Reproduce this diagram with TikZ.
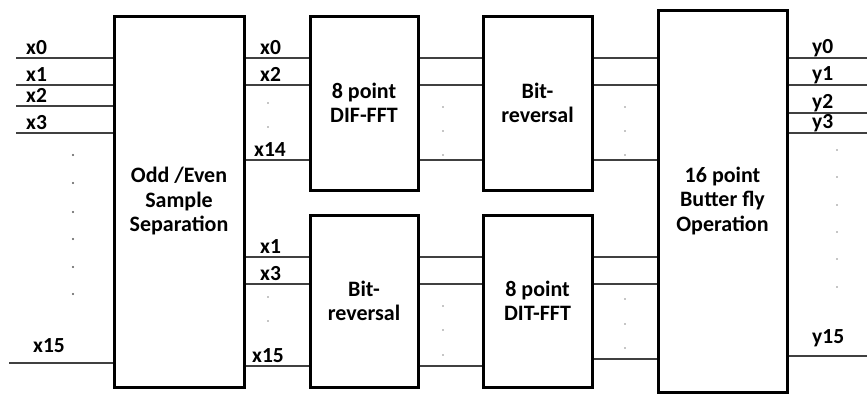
\documentclass[tikz,border=0pt]{standalone}
\usepackage{fontspec}
\setmainfont{Carlito}
\begin{document}
\begin{tikzpicture}[x=1pt,y=-1pt,
  blk/.style={draw=black,line width=3pt,fill=white,align=center,inner sep=0pt,
    font=\bfseries\fontsize{22}{24.5}\selectfont},
  wire/.style={draw=black!75,line width=1.3pt},
  lbl/.style={font=\bfseries\fontsize{21.5}{22}\selectfont,inner sep=0pt,anchor=south west},
  dt/.style={circle,fill=black!65,inner sep=0pt,minimum size=2.2pt},
  sdt/.style={circle,fill=black!45,inner sep=0pt,minimum size=1.8pt}]
\useasboundingbox (0,0) rectangle (867,394);
% blocks
\node[blk,minimum width=130pt,minimum height=371pt] (oe) at (179,201.5) {Odd /Even\\Sample\\Separation};
\node[blk,minimum width=108pt,minimum height=174pt] (dif) at (364,103) {8 point\\DIF-FFT};
\node[blk,minimum width=109pt,minimum height=174pt] (br1) at (537.5,103) {Bit-\\reversal};
\node[blk,minimum width=108pt,minimum height=172pt] (br2) at (364,301) {Bit-\\reversal};
\node[blk,minimum width=109pt,minimum height=172pt] (dit) at (537.5,301) {8 point\\DIT-FFT};
\node[blk,minimum width=129pt,minimum height=382pt] (bf) at (722.5,201) {16 point\\Butter fly\\Operation};
% inputs
\foreach \n/\yy/\lab in {a/58/x0,b/85/x1,c/106/x2,d/133/x3}{
  \coordinate (in\n) at (16,\yy);
  \draw[wire] (in\n) -- (in\n -| oe.west);
  \node[lbl] (lin\n) at (26,\yy-3.5) {\lab};
}
\coordinate (ine) at (9,363);
\draw[wire] (ine) -- (ine -| oe.west);
\node[lbl] (line) at (33,353) {x15};
\foreach \yy [count=\i] in {155,183,212,239,267,294}{
  \node[dt] (ld\i) at (73,\yy) {};
}
% oe -> dif and br2
\foreach \n/\yy/\lab/\lx in {a/58/x0/260,b/85/x2/260,c/160/x14/254}{
  \coordinate (o\n) at (oe.east |- 0,\yy);
  \draw[wire] (o\n) -- (o\n -| dif.west);
  \node[lbl] (lo\n) at (\lx,\yy-3.5) {\lab};
}
\foreach \n/\yy/\lab/\lx in {d/257/x1/260,e/284/x3/260,f/366/x15/252}{
  \coordinate (o\n) at (oe.east |- 0,\yy);
  \draw[wire] (o\n) -- (o\n -| br2.west);
  \node[lbl] (lo\n) at (\lx,\yy-3.5) {\lab};
}
\foreach \yy [count=\i] in {103,127,297,321}{
  \node[sdt] (od\i) at (268,\yy) {};
}
% dif -> br1, br2 -> dit
\foreach \yy in {58,85,160}{
  \coordinate (m) at (dif.east |- 0,\yy);
  \draw[wire] (m) -- (m -| br1.west);
}
\foreach \yy in {257,284,366}{
  \coordinate (m) at (br2.east |- 0,\yy);
  \draw[wire] (m) -- (m -| dit.west);
}
\foreach \yy [count=\i] in {107,131,155,306,330,355}{
  \node[sdt] (md\i) at (443,\yy) {};
}
% br1, dit -> bf
\foreach \yy in {58,85,160}{
  \coordinate (m) at (br1.east |- 0,\yy);
  \draw[wire] (m) -- (m -| bf.west);
}
\foreach \yy in {257,284,359}{
  \coordinate (m) at (dit.east |- 0,\yy);
  \draw[wire] (m) -- (m -| bf.west);
}
\foreach \yy [count=\i] in {107,131,155,299,324,348}{
  \node[sdt] (nd\i) at (625,\yy) {};
}
% outputs
\foreach \n/\yy in {a/58,b/85,c/113,d/133,e/356}{
  \coordinate (out\n) at (867,\yy);
  \draw[wire] (bf.east |- out\n) -- (out\n);
}
\node[lbl] (lya) at (812,57) {y0};
\node[lbl] (lyb) at (812,84) {y1};
\node[lbl] (lyc) at (812,112) {y2};
\node[lbl] (lyd) at (812,132) {y3};
\node[lbl] (lye) at (812,347) {y15};
\foreach \yy [count=\i] in {150,177,205,232,259,287}{
  \node[sdt] (rd\i) at (837,\yy) {};
}
\end{tikzpicture}
\end{document}
